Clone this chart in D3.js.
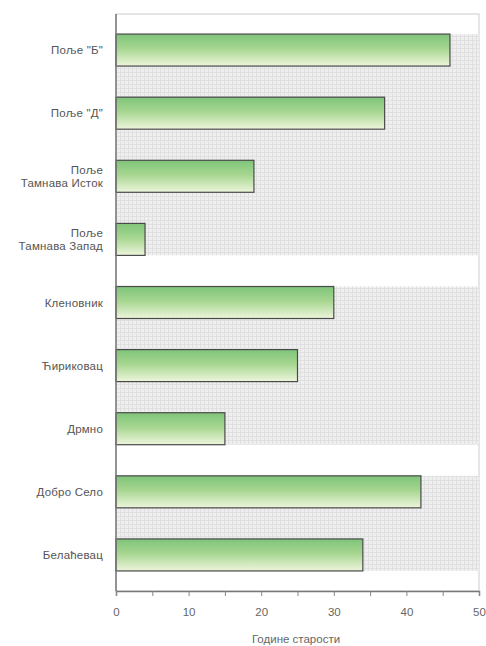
<!DOCTYPE html>
<html><head><meta charset="utf-8">
<script src="https://cdn.jsdelivr.net/npm/d3@7"></script>
<style>body{margin:0;background:#fff}</style>
</head><body>
<svg id="c" width="486" height="646"></svg>
<script>
const categories = ["Поље \"Б\"", "Поље \"Д\"", "Поље\nТамнава Исток", "Поље\nТамнава Запад", "Кленовник", "Ћириковац", "Дрмно", "Добро Село", "Белаћевац"];
const values = [46, 37, 19, 4, 30, 25, 15, 42, 34];
const groups = [[0, 3], [4, 6], [7, 8]];
const xTicks = [0, 10, 20, 30, 40, 50];
const axisTitle = "Године старости";

const FONT = "'Liberation Sans',Arial,sans-serif";
const svg = d3.select("#c");
const L = 116, R = 479, T = 14, B = 591;
const x = d3.scaleLinear().domain([0, 50]).range([L, R]);
const y = d3.scaleBand().domain(categories).range([T, B]).paddingInner(0.493).paddingOuter(0.318);

const defs = svg.append("defs");
const pat = defs.append("pattern").attr("id", "grid").attr("patternUnits", "userSpaceOnUse").attr("width", 4).attr("height", 4);
pat.append("rect").attr("width", 4).attr("height", 4).attr("fill", "#efefef");
pat.append("path").attr("d", "M0,0.5H4M0.5,0V4").attr("stroke", "#e0e0e0").attr("stroke-width", 1);
const g = defs.append("linearGradient").attr("id", "bar").attr("x1", 0).attr("y1", 0).attr("x2", 0).attr("y2", 1);
g.append("stop").attr("offset", "0%").attr("stop-color", "#7fc47a");
g.append("stop").attr("offset", "45%").attr("stop-color", "#a6d690");
g.append("stop").attr("offset", "100%").attr("stop-color", "#eef5dc");

svg.append("rect").attr("x", L).attr("y", T).attr("width", R - L).attr("height", B - T).attr("fill", "#fff").attr("stroke", "#cccccc");
groups.forEach(([a, b]) => {
  const y0 = y(categories[a]), y1 = y(categories[b]) + y.bandwidth();
  svg.append("rect").attr("x", L).attr("y", y0).attr("width", R - L).attr("height", y1 - y0).attr("fill", "url(#grid)");
});

svg.selectAll("rect.bar").data(values).enter().append("rect").attr("class", "bar")
  .attr("x", x(0)).attr("y", (d, i) => y(categories[i]))
  .attr("width", d => x(d) - x(0)).attr("height", y.bandwidth())
  .attr("fill", "url(#bar)").attr("stroke", "#4a4a4a").attr("stroke-width", 1.2);

svg.append("line").attr("x1", L).attr("x2", L).attr("y1", T).attr("y2", B).attr("stroke", "#777").attr("stroke-width", 1.5);

const ax = svg.append("g").attr("transform", `translate(0,${B})`)
  .call(d3.axisBottom(x).tickValues(d3.range(0, 51, 5)).tickSize(5).tickFormat(d => xTicks.includes(d) ? d : ""));
ax.select(".domain").attr("stroke", "#777").attr("stroke-width", 1.5);
ax.selectAll(".tick line").attr("stroke", "#888");
ax.selectAll(".tick text").attr("y", 17).attr("fill", "#666").style("font-family", FONT).style("font-size", "11.5px");

svg.append("text").attr("x", 296).attr("y", 643).attr("text-anchor", "middle")
  .attr("fill", "#666").style("font-family", FONT).style("font-size", "11.5px").text(axisTitle);

categories.forEach((c, i) => {
  const lines = c.split("\n");
  const cy = y(c) + y.bandwidth() / 2;
  const t = svg.append("text").attr("text-anchor", "end").attr("fill", "#555")
    .style("font-family", FONT).style("font-size", "11.5px").style("letter-spacing", "0.2px");
  lines.forEach((ln, k) => {
    t.append("tspan").attr("x", 103).attr("y", cy + 4 + (k - (lines.length - 1) / 2) * 13).text(ln);
  });
});
</script>
</body></html>
